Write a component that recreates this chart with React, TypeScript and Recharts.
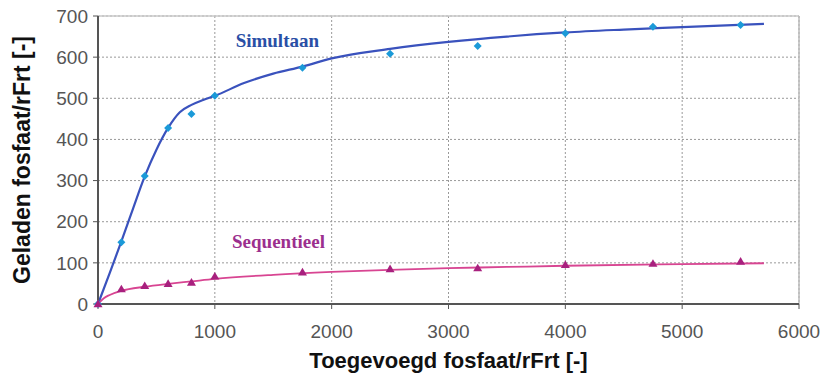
import React from 'react';
import {
  ComposedChart,
  Line,
  Scatter,
  XAxis,
  YAxis,
  CartesianGrid,
  ReferenceLine,
  ReferenceDot,
  Label,
} from 'recharts';

document.body.style.margin = '0';

// axis ticks
const xTicks = [0, 1000, 2000, 3000, 4000, 5000, 6000];
const yTicks = [0, 100, 200, 300, 400, 500, 600, 700];

const measuredX = [0, 200, 400, 600, 800, 1000, 1750, 2500, 3250, 4000, 4750, 5500];
const simultaanMeasured = [0, 150, 311, 428, 462, 506, 574, 608, 627, 658, 674, 678];
const sequentieelMeasured = [0, 36, 44, 49, 52, 67, 77, 85, 87, 95, 98, 103];

// fitted curves (sampled along the drawn lines)
const simFitX = [0, 100, 200, 300, 400, 500, 600, 700, 800, 900, 1000, 1250, 1500, 1750, 2000, 2500, 3000, 3500, 4000, 4500, 5000, 5700];
const simFitY = [0, 75, 152, 232, 310, 375, 428, 466, 484, 496, 506, 537, 560, 577, 597, 620, 637, 650, 660, 667, 673, 681];
const seqFitX = [0, 50, 100, 200, 400, 600, 800, 1000, 1500, 2000, 2500, 3000, 3500, 4000, 5000, 5700];
const seqFitY = [0, 14, 22, 32, 42, 49, 55, 61, 71, 78, 83, 87, 90, 93, 97, 99];

const simPoints = measuredX.map((x, i) => ({ x, y: simultaanMeasured[i] }));
const seqPoints = measuredX.map((x, i) => ({ x, y: sequentieelMeasured[i] }));
const simFit = simFitX.map((x, i) => ({ x, y: simFitY[i] }));
const seqFit = seqFitX.map((x, i) => ({ x, y: seqFitY[i] }));

const sans = '"Liberation Sans", Arial, sans-serif';
const serif = '"Liberation Serif", "Times New Roman", serif';
const tickStyle = { fill: '#555', fontSize: 19, fontFamily: sans };
const axisStyle = { stroke: '#555', strokeWidth: 2 };

const Diamond = (props: any) => {
  const { cx, cy } = props;
  if (cx == null || cy == null) return null;
  const s = 4;
  return <polygon points={`${cx},${cy - s} ${cx + s},${cy} ${cx},${cy + s} ${cx - s},${cy}`} fill="#1b9ad8" />;
};

const Triangle = (props: any) => {
  const { cx, cy } = props;
  if (cx == null || cy == null) return null;
  const s = 4.5;
  return <polygon points={`${cx},${cy - s} ${cx + s},${cy + s * 0.7} ${cx - s},${cy + s * 0.7}`} fill="#a8207e" />;
};

export default function App() {
  return (
    <div style={{ width: 829, height: 373, background: '#fff' }}>
      <ComposedChart width={829} height={373} margin={{ top: 16, right: 30, bottom: 0, left: 0 }}>
        <CartesianGrid strokeDasharray="2 2" stroke="#999" />
        <XAxis
          type="number"
          dataKey="x"
          domain={[0, 6000]}
          ticks={xTicks}
          interval={0}
          height={69}
          tick={tickStyle}
          tickSize={5}
          tickMargin={16}
          axisLine={axisStyle}
          tickLine={{ stroke: '#555' }}
        >
          <Label
            value="Toegevoegd fosfaat/rFrt [-]"
            position="insideBottom"
            offset={5}
            fill="#111"
            fontSize={22}
            fontWeight="bold"
            fontFamily={sans}
          />
        </XAxis>
        <YAxis
          type="number"
          dataKey="y"
          domain={[0, 700]}
          ticks={yTicks}
          interval={0}
          width={98}
          tick={tickStyle}
          tickSize={5}
          tickMargin={5}
          axisLine={axisStyle}
          tickLine={{ stroke: '#555' }}
        >
          <Label
            value="Geladen  fosfaat/rFrt [-]"
            angle={-90}
            position="insideLeft"
            offset={22}
            fill="#111"
            fontSize={23}
            fontWeight="bold"
            fontFamily={sans}
            style={{ textAnchor: 'middle', whiteSpace: 'pre' }}
          />
        </YAxis>
        <ReferenceLine y={700} stroke="#c8c8c8" strokeWidth={1.5} />
        <ReferenceLine x={6000} stroke="#bbb" strokeWidth={1.5} />
        <Line data={simFit} dataKey="y" type="monotone" stroke="#3a52bd" strokeWidth={2.2} dot={false} isAnimationActive={false} />
        <Line data={seqFit} dataKey="y" type="monotone" stroke="#d84592" strokeWidth={1.8} dot={false} isAnimationActive={false} />
        <Scatter data={simPoints} dataKey="y" shape={<Diamond />} isAnimationActive={false} />
        <Scatter data={seqPoints} dataKey="y" shape={<Triangle />} isAnimationActive={false} />
        <ReferenceDot x={1535} y={641} r={0} stroke="none" fill="none">
          <Label value="Simultaan" position="center" fill="#2a4fa6" fontSize={19} fontWeight="bold" fontFamily={serif} />
        </ReferenceDot>
        <ReferenceDot x={1545} y={152} r={0} stroke="none" fill="none">
          <Label value="Sequentieel" position="center" fill="#9c2f8e" fontSize={19} fontWeight="bold" fontFamily={serif} />
        </ReferenceDot>
      </ComposedChart>
    </div>
  );
}
